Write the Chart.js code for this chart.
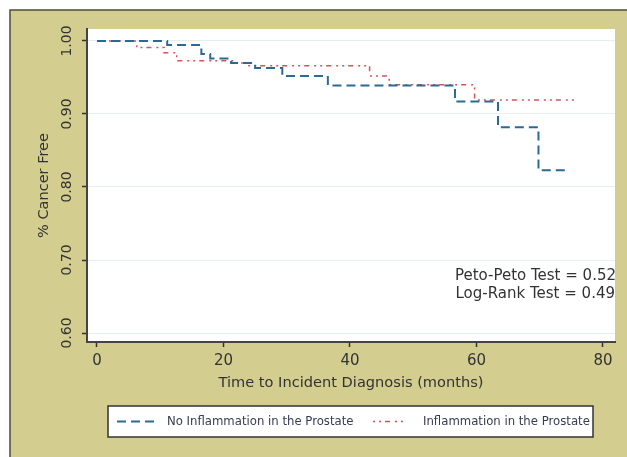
<!DOCTYPE html>
<html>
<head>
<meta charset="utf-8">
<script src="https://cdn.jsdelivr.net/npm/chart.js@4"></script>
<style>
  html, body { margin: 0; padding: 0; background: #fff; }
  canvas { display: block; }
</style>
</head>
<body>
<canvas id="km" width="627" height="457"></canvas>
<script>
// --- data (Kaplan-Meier steps) ---
const noInflTimes = [0, 11.1, 16.5, 17.9, 21.2, 25.0, 29.3, 36.5, 56.6, 63.4, 69.8, 74.4];
const noInflSurv  = [1.000, 0.9945, 0.982, 0.976, 0.970, 0.963, 0.952, 0.939, 0.917, 0.882, 0.823, 0.823];

const inflTimes = [0, 6.3, 10.6, 12.6, 21.7, 23.8, 43.1, 46.2, 59.7, 75.5];
const inflSurv  = [1.000, 0.991, 0.984, 0.973, 0.970, 0.966, 0.952, 0.940, 0.919, 0.919];

const xTicks = [0, 20, 40, 60, 80];
const yTicks = [0.60, 0.70, 0.80, 0.90, 1.00];

const seriesLabels = ['No Inflammation in the Prostate', 'Inflammation in the Prostate'];
const testLines = ['Peto-Peto Test = 0.52', 'Log-Rank Test = 0.49'];

const FONT = '"DejaVu Sans", sans-serif';
const TAN = '#d4cd90';

function toPoints(ts, ss) {
  return ts.map((t, i) => ({ x: t, y: ss[i] }));
}

// background: white page, tan graph region with border, white plot region
const bgPlugin = {
  id: 'bg',
  beforeDraw(chart) {
    const ctx = chart.ctx, a = chart.chartArea;
    ctx.save();
    ctx.fillStyle = '#fff';
    ctx.fillRect(0, 0, chart.width, chart.height);
    ctx.fillStyle = TAN;
    ctx.fillRect(10, 10, chart.width - 10, chart.height - 10);
    ctx.strokeStyle = '#4e4c3a';
    ctx.lineWidth = 1.5;
    ctx.beginPath();
    ctx.moveTo(10, chart.height);
    ctx.lineTo(10, 10);
    ctx.lineTo(chart.width, 10);
    ctx.stroke();
    ctx.fillStyle = '#fff';
    ctx.fillRect(a.left, a.top, a.right - a.left, a.bottom - a.top);
    ctx.restore();
  }
};

// y tick labels rotated like Stata, test text, and legend box
const extrasPlugin = {
  id: 'extras',
  afterDraw(chart) {
    const ctx = chart.ctx, a = chart.chartArea;
    const y = chart.scales.y;
    ctx.save();

    // rotated y tick labels
    ctx.fillStyle = '#333';
    ctx.font = '14px ' + FONT;
    ctx.textAlign = 'center';
    ctx.textBaseline = 'middle';
    y.ticks.forEach(t => {
      const py = y.getPixelForValue(t.value);
      ctx.save();
      ctx.translate(67, py);
      ctx.rotate(-Math.PI / 2);
      ctx.fillText(t.value.toFixed(2), 0, 0);
      ctx.restore();
    });

    // test results
    ctx.textAlign = 'right';
    ctx.font = '15px ' + FONT;
    ctx.fillText(testLines[0], a.right + 1, 276);
    ctx.fillText(testLines[1], a.right, 294);

    // legend
    const lx = 108, ly = 406, lw = 485, lh = 31;
    ctx.fillStyle = '#fff';
    ctx.fillRect(lx, ly, lw, lh);
    ctx.strokeStyle = '#333';
    ctx.lineWidth = 1.5;
    ctx.strokeRect(lx, ly, lw, lh);
    const cy = ly + lh / 2;
    const items = [
      { x0: 117, x1: 154, tx: 167 },
      { x0: 373, x1: 407, tx: 423 }
    ];
    chart.data.datasets.forEach((ds, i) => {
      const it = items[i];
      ctx.strokeStyle = ds.borderColor;
      ctx.lineWidth = ds.borderWidth;
      ctx.setLineDash(ds.borderDash);
      ctx.beginPath();
      ctx.moveTo(it.x0, cy);
      ctx.lineTo(it.x1, cy);
      ctx.stroke();
      ctx.setLineDash([]);
      ctx.fillStyle = '#3a3a55';
      ctx.font = '11.7px ' + FONT;
      ctx.textAlign = 'left';
      ctx.fillText(ds.label, it.tx, cy + 0.5);
    });
    ctx.restore();
  }
};

new Chart(document.getElementById('km'), {
  type: 'line',
  data: {
    datasets: [
      {
        label: seriesLabels[0],
        data: toPoints(noInflTimes, noInflSurv),
        borderColor: '#2a6a93',
        borderWidth: 2,
        borderDash: [9, 5],
        stepped: true,
        pointRadius: 0,
        fill: false
      },
      {
        label: seriesLabels[1],
        data: toPoints(inflTimes, inflSurv),
        borderColor: '#d0555a',
        borderWidth: 1.5,
        borderDash: [2, 4, 2, 4, 5, 5],
        stepped: true,
        pointRadius: 0,
        fill: false
      }
    ]
  },
  options: {
    responsive: false,
    animation: false,
    layout: { padding: { left: 0, top: 29, right: 12, bottom: 65 } },
    plugins: { legend: { display: false }, tooltip: { enabled: false } },
    scales: {
      x: {
        type: 'linear',
        min: -1.58,
        max: 81.9,
        afterBuildTicks: s => { s.ticks = xTicks.map(v => ({ value: v })); },
        afterFit: s => { s.height = 50; },
        grid: { drawOnChartArea: false, tickLength: 5, tickColor: '#333', tickWidth: 1.5 },
        border: { display: true, color: '#444', width: 2 },
        ticks: { color: '#333', font: { family: FONT, size: 15 }, padding: 5, maxRotation: 0 },
        title: {
          display: true,
          text: 'Time to Incident Diagnosis (months)',
          color: '#333',
          font: { family: FONT, size: 14.6 },
          padding: { top: 0, bottom: 0 }
        }
      },
      y: {
        type: 'linear',
        min: 0.5877,
        max: 1.0164,
        afterBuildTicks: s => { s.ticks = yTicks.map(v => ({ value: v })); },
        afterFit: s => { s.width = 87; },
        grid: { color: '#e3eff2', lineWidth: 1, tickLength: 5, tickColor: '#333', tickWidth: 1.5 },
        border: { display: true, color: '#444', width: 2 },
        ticks: { display: false },
        title: {
          display: true,
          text: '% Cancer Free',
          color: '#333',
          font: { family: FONT, size: 14.5 },
          padding: { top: 36, bottom: 0 }
        }
      }
    }
  },
  plugins: [bgPlugin, extrasPlugin]
});
</script>
</body>
</html>
